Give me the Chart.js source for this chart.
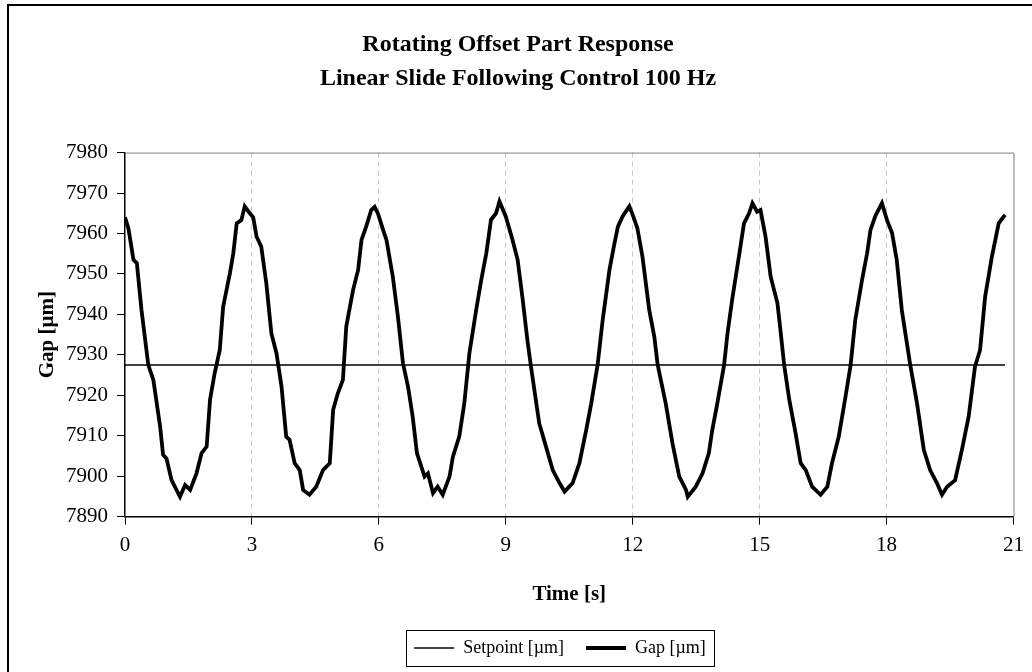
<!DOCTYPE html>
<html>
<head>
<meta charset="utf-8">
<script src="https://cdn.jsdelivr.net/npm/chart.js@4.4.1/dist/chart.umd.min.js"></script>
<style>
  html, body { margin: 0; padding: 0; background: #fff; }
  #wrap { width: 1032px; height: 672px; }
</style>
</head>
<body>
<div id="wrap"><canvas id="gapChart" width="1032" height="672"></canvas></div>
<script>
// --- Data ---
const titleLines = ['Rotating Offset Part Response', 'Linear Slide Following Control 100 Hz'];
const xTicks = [0, 3, 6, 9, 12, 15, 18, 21];
const yTicks = [7890, 7900, 7910, 7920, 7930, 7940, 7950, 7960, 7970, 7980];

const setpointTime = [0, 20.8];
const setpointValue = [7927.5, 7927.5];

const gapTime = [
  0.00, 0.08, 0.20, 0.28, 0.39, 0.55, 0.67, 0.83, 0.90, 0.98,
  1.10, 1.30, 1.42, 1.54, 1.69, 1.81, 1.93, 2.01, 2.12, 2.24,
  2.32, 2.48, 2.56, 2.64, 2.75, 2.83, 2.95, 3.03, 3.11, 3.22,
  3.34, 3.46, 3.58, 3.70, 3.81, 3.89, 4.01, 4.13, 4.21, 4.36,
  4.52, 4.68, 4.84, 4.92, 5.03, 5.15, 5.23, 5.39, 5.51, 5.59,
  5.70, 5.82, 5.90, 5.98, 6.10, 6.18, 6.33, 6.45, 6.57, 6.69,
  6.80, 6.90, 7.08, 7.16, 7.28, 7.39, 7.51, 7.67, 7.75, 7.90,
  8.02, 8.14, 8.30, 8.42, 8.54, 8.65, 8.77, 8.85, 9.00, 9.16,
  9.28, 9.40, 9.51, 9.59, 9.79, 9.95, 10.11, 10.27, 10.39, 10.58,
  10.74, 10.90, 11.02, 11.17, 11.29, 11.45, 11.57, 11.65, 11.76, 11.92,
  12.00, 12.11, 12.23, 12.39, 12.51, 12.59, 12.78, 12.94, 13.10, 13.26,
  13.30, 13.49, 13.65, 13.80, 13.88, 14.00, 14.16, 14.24, 14.35, 14.51,
  14.63, 14.75, 14.83, 14.94, 15.02, 15.14, 15.26, 15.42, 15.50, 15.58,
  15.70, 15.85, 15.97, 16.09, 16.24, 16.44, 16.60, 16.71, 16.87, 17.03,
  17.15, 17.26, 17.42, 17.54, 17.62, 17.73, 17.89, 18.01, 18.13, 18.24,
  18.36, 18.48, 18.56, 18.72, 18.88, 19.03, 19.19, 19.31, 19.43, 19.62,
  19.78, 19.94, 20.09, 20.21, 20.33, 20.49, 20.65, 20.80
];
const gapValue = [
  7964.0, 7961.3, 7953.5, 7952.7, 7941.1, 7927.5, 7923.8, 7912.3, 7905.3, 7904.4,
  7899.0, 7894.9, 7897.8, 7896.6, 7900.7, 7905.7, 7907.3, 7918.9, 7925.5, 7931.2,
  7941.9, 7950.2, 7955.1, 7962.5, 7963.3, 7966.7, 7965.0, 7964.0, 7959.2, 7956.8,
  7947.7, 7935.3, 7930.4, 7922.1, 7909.8, 7909.0, 7903.2, 7901.5, 7896.6, 7895.4,
  7897.4, 7901.5, 7903.2, 7916.4, 7920.5, 7923.8, 7937.0, 7946.0, 7951.0, 7958.4,
  7961.7, 7965.8, 7966.6, 7964.9, 7960.9, 7958.4, 7949.3, 7939.5, 7927.9, 7922.1,
  7914.7, 7905.7, 7899.9, 7900.7, 7895.8, 7897.4, 7895.4, 7899.9, 7904.8, 7909.8,
  7918.0, 7930.4, 7941.1, 7948.5, 7955.1, 7963.4, 7965.0, 7967.9, 7964.2, 7958.4,
  7953.5, 7943.6, 7933.7, 7927.5, 7913.1, 7907.3, 7901.5, 7898.3, 7896.2, 7898.3,
  7903.2, 7911.4, 7918.0, 7927.5, 7938.6, 7951.0, 7957.6, 7961.7, 7964.2, 7966.7,
  7964.6, 7961.3, 7954.3, 7941.1, 7934.5, 7927.5, 7918.0, 7908.1, 7899.9, 7896.6,
  7894.9, 7897.4, 7900.7, 7905.7, 7911.4, 7918.0, 7927.5, 7935.3, 7943.6, 7954.3,
  7962.5, 7965.0, 7967.5, 7965.4, 7965.8, 7959.2, 7949.3, 7942.8, 7935.3, 7927.5,
  7918.9, 7910.6, 7903.2, 7901.5, 7897.4, 7895.4, 7897.4, 7903.2, 7909.8, 7919.7,
  7927.5, 7938.6, 7948.5, 7955.1, 7960.9, 7964.2, 7967.5, 7963.3, 7960.1, 7953.5,
  7941.1, 7932.9, 7927.5, 7918.0, 7906.5, 7901.5, 7898.3, 7895.4, 7897.4, 7899.0,
  7906.5, 7914.7, 7927.1, 7931.2, 7944.4, 7954.3, 7962.5, 7964.6
];

const toPoints = (xs, ys) => xs.map((x, i) => ({ x: x, y: ys[i] }));

// frame round the whole chart, plot border, legend box
const framePlugin = {
  id: 'frame',
  afterLayout(chart) {
    // legend sits right of the canvas centre in the reference
    const lg = chart.legend;
    lg.left += 42;
    lg.right += 42;
  },
  beforeDraw(chart) {
    const ctx = chart.ctx;
    ctx.save();
    ctx.fillStyle = '#fff';
    ctx.fillRect(0, 0, chart.width, chart.height);
    ctx.strokeStyle = '#000';
    ctx.lineWidth = 2;
    ctx.beginPath();
    ctx.moveTo(8, chart.height);
    ctx.lineTo(8, 5);
    ctx.lineTo(chart.width, 5);
    ctx.stroke();
    ctx.restore();
  },
  afterDraw(chart) {
    const ctx = chart.ctx;
    const a = chart.chartArea;
    ctx.save();
    ctx.strokeStyle = '#808080';
    ctx.lineWidth = 1;
    ctx.beginPath();
    ctx.moveTo(a.left, a.top + 0.5);
    ctx.lineTo(a.right + 0.5, a.top + 0.5);
    ctx.lineTo(a.right + 0.5, a.bottom);
    ctx.stroke();
    const boxes = chart.legend.legendHitBoxes;
    if (boxes && boxes.length) {
      const l = boxes[0].left - 8;
      const last = boxes[boxes.length - 1];
      const r = last.left + last.width + 8;
      const t = boxes[0].top - 9;
      const b = boxes[0].top + boxes[0].height + 9;
      ctx.strokeStyle = '#000';
      ctx.strokeRect(Math.round(l) + 0.5, Math.round(t) + 0.5, Math.round(r - l), Math.round(b - t));
    }
    ctx.restore();
  }
};

Chart.defaults.font.family = "'Liberation Serif', 'Times New Roman', serif";
Chart.defaults.color = '#000';

new Chart(document.getElementById('gapChart').getContext('2d'), {
  type: 'line',
  data: {
    datasets: [
      {
        label: 'Setpoint [µm]',
        data: toPoints(setpointTime, setpointValue),
        borderColor: '#000',
        borderWidth: 1.5,
        pointRadius: 0,
        fill: false
      },
      {
        label: 'Gap [µm]',
        data: toPoints(gapTime, gapValue),
        borderColor: '#000',
        borderWidth: 3.8,
        pointRadius: 0,
        tension: 0,
        fill: false
      }
    ]
  },
  options: {
    responsive: false,
    animation: false,
    layout: { padding: { left: 22, right: 18, top: 12, bottom: 5 } },
    plugins: {
      title: {
        display: true,
        text: titleLines,
        font: { size: 24, weight: 'bold', lineHeight: 1.45 },
        color: '#000',
        padding: { top: 15, bottom: 56 }
      },
      legend: {
        position: 'bottom',
        labels: {
          usePointStyle: true,
          pointStyle: 'line',
          pointStyleWidth: 40,
          padding: 22,
          color: '#000',
          font: { size: 18 }
        }
      },
      tooltip: { enabled: false }
    },
    scales: {
      x: {
        type: 'linear',
        min: 0,
        max: 21,
        afterBuildTicks: (scale) => { scale.ticks = xTicks.map(v => ({ value: v })); },
        title: { display: true, text: 'Time [s]', font: { size: 21, weight: 'bold' }, padding: { top: 16, bottom: 10 } },
        ticks: { font: { size: 21 }, color: '#000', padding: 8, maxRotation: 0, callback: (v) => String(v) },
        grid: {
          color: (c) => (c.tick && (c.tick.value === 0 || c.tick.value === 21)) ? 'rgba(0,0,0,0)' : '#c8c8c8',
          lineWidth: 1,
          tickColor: '#000',
          tickLength: 8,
          tickBorderDash: []
        },
        border: { color: '#000', width: 1.5, dash: [5, 4] }
      },
      y: {
        min: 7890,
        max: 7980,
        afterBuildTicks: (scale) => { scale.ticks = yTicks.map(v => ({ value: v })); },
        afterFit: (scale) => { scale.width = 103; },
        title: { display: true, text: 'Gap [µm]', font: { size: 21, weight: 'bold' }, padding: { top: 13, bottom: 4 } },
        ticks: { font: { size: 21 }, color: '#000', padding: 9, callback: (v) => String(v) },
        grid: { drawOnChartArea: false, tickColor: '#000', tickLength: 8 },
        border: { color: '#000', width: 1.5 }
      }
    }
  },
  plugins: [framePlugin]
});
</script>
</body>
</html>
